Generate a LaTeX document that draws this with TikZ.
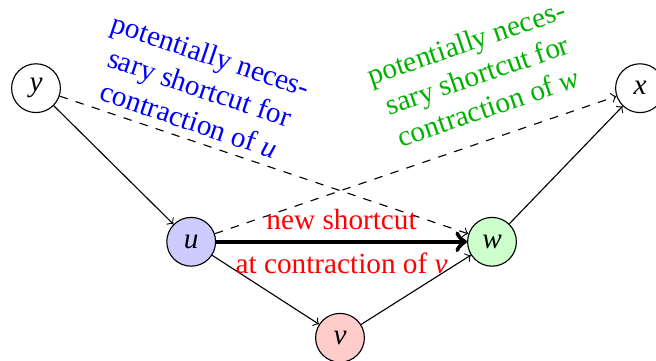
\documentclass[tikz,border=0pt]{standalone}
\usepackage{fontspec}
\setmainfont{Liberation Serif}
\begin{document}
\begin{tikzpicture}[font=\fontsize{10.4pt}{12.2pt}\selectfont,
    vertex/.style={draw, circle, minimum size=0.61cm, inner sep=0pt},
    edge/.style={->},
    shortcut/.style={->, dashed},
    remark/.style={align=center, inner sep=0pt}]
    \useasboundingbox (0,0) rectangle (8.2,4.5125);

    % vertices
    \node[vertex] (y) at (0.45, 3.41) {\textit{y}};
    \node[vertex, fill=blue!20] (u) at (2.39, 1.49) {\textit{u}};
    \node[vertex, fill=red!20] (v) at (4.25, 0.29) {\textit{v}};
    \node[vertex, fill=green!20] (w) at (6.15, 1.49) {\textit{w}};
    \node[vertex] (x) at (8.0, 3.41) {\textit{x}};

    % edges
    \draw[edge] (y) -- (u);
    \draw[edge] (u) -- (v);
    \draw[edge] (v) -- (w);
    \draw[edge] (w) -- (x);

    % shortcuts
    \draw[shortcut] (y) -- (w);
    \draw[shortcut] (u) -- (x);
    \draw[->, line width=1.6pt] (u) -- node[above, red] {new shortcut}
        node[below, red] {at contraction of \textit{v}} (w);

    % remarks
    \node[remark, blue, rotate=-18.7] (ru) at (2.50, 3.42)
        {potentially neces-\\sary shortcut for\\contraction of \textit{u}};
    \node[remark, green!70!black, rotate=18.9] (rw) at (5.965, 3.58)
        {potentially neces-\\sary shortcut for\\contraction of \textit{w}};
\end{tikzpicture}
\end{document}
